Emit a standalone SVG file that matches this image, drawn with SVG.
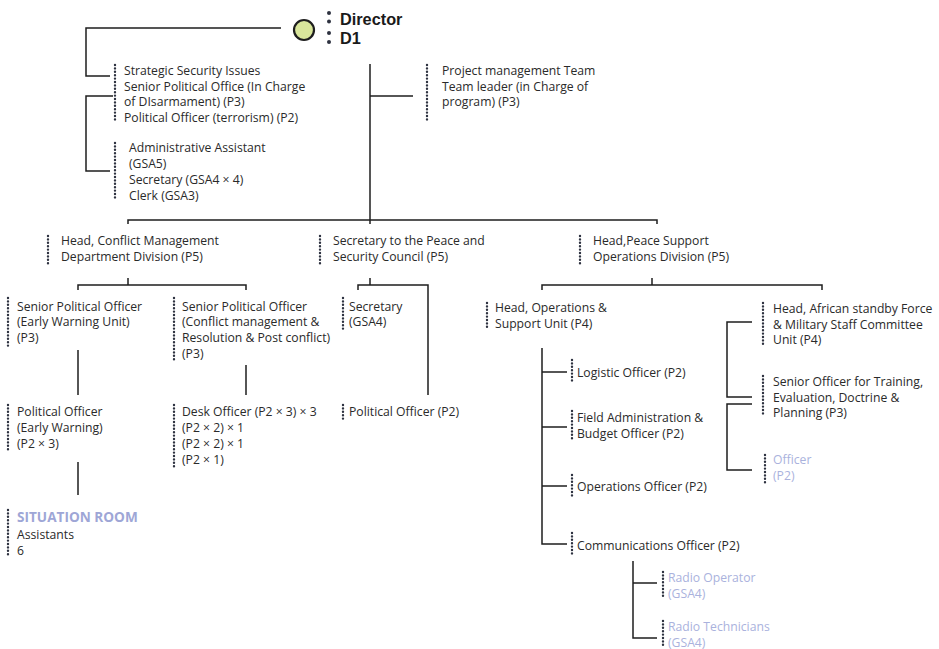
<svg xmlns="http://www.w3.org/2000/svg" width="939" height="649" viewBox="0 0 939 649">
<style>
text{font-family:"Open Sans","Noto Sans","Liberation Sans",sans-serif;font-size:12.2px;fill:#2a2a2a}
.b{font-family:"Liberation Sans",Arial,sans-serif;font-weight:bold;font-size:16.3px;fill:#1a1a1a}
.sr{font-weight:bold;font-size:13.6px;fill:#9ea6d6}
.lv{fill:#aab2dd}
.dt{stroke:#2e3240;stroke-width:2.4;stroke-linecap:round;stroke-dasharray:0 3.4;fill:none}
.cn path{stroke:#1e1e1e;stroke-width:1.5;fill:none}
</style>
<rect width="939" height="649" fill="#ffffff"/>
<g id="connectors" class="cn">
<path d="M281,28 H86 V76 H110"/>
<path d="M113,96 H86 V171 H110"/>
<path d="M370,64 V220"/>
<path d="M370,96 H413"/>
<path d="M128,224 V220 H657 V224"/>
<path d="M370,220 V224"/>
<path d="M128,278 V285"/>
<path d="M78,290 V285 H246 V290"/>
<path d="M370,278 V285"/>
<path d="M358,290 V285 H428 V395"/>
<path d="M652,278 V285"/>
<path d="M542,290 V285 H822 V290"/>
<path d="M78,350 V395"/>
<path d="M246,365 V395"/>
<path d="M78,462 V495"/>
<path d="M542,348 V544 H567"/>
<path d="M542,372 H567"/>
<path d="M542,427 H567"/>
<path d="M542,486 H567"/>
<path d="M752,322 H727 V397 H752"/>
<path d="M752,404 H727 V470 H752"/>
<path d="M633,561 V638 H657"/>
<path d="M633,583 H657"/>
</g>
<g id="n-director">
<circle cx="304" cy="30" r="10" fill="#d9e69b" stroke="#1e1e1e" stroke-width="2.2"/>
<g fill="#2e3240"><circle cx="329" cy="13" r="2"/><circle cx="329" cy="21.5" r="2"/><circle cx="329" cy="33" r="2"/><circle cx="329" cy="42" r="2"/></g>
<text class="b" x="340" y="24.5">Director</text>
<text class="b" x="340" y="43.5">D1</text>
</g>
<g id="n-strategic">
<path class="dt" d="M115,65 V122"/>
<text x="124" y="75">Strategic Security Issues</text>
<text x="124" y="90.5">Senior Political Office (In Charge</text>
<text x="124" y="106">of DIsarmament) (P3)</text>
<text x="124" y="121.5">Political Officer (terrorism) (P2)</text>
</g>
<g id="n-admin">
<path class="dt" d="M115,143 V200"/>
<text x="129" y="152">Administrative Assistant</text>
<text x="129" y="168">(GSA5)</text>
<text x="129" y="184">Secretary (GSA4 × 4)</text>
<text x="129" y="199.5">Clerk (GSA3)</text>
</g>
<g id="n-project">
<path class="dt" d="M427,65 V122"/>
<text x="442" y="74.5">Project management Team</text>
<text x="442" y="90.5">Team leader (in Charge of</text>
<text x="442" y="106">program) (P3)</text>
</g>
<g id="n-conflict">
<path class="dt" d="M48,236 V265"/>
<text x="61" y="245">Head, Conflict Management</text>
<text x="61" y="261">Department Division (P5)</text>
</g>
<g id="n-psc">
<path class="dt" d="M320,236 V265"/>
<text x="333" y="245">Secretary to the Peace and</text>
<text x="333" y="261">Security Council (P5)</text>
</g>
<g id="n-peace">
<path class="dt" d="M580,236 V265"/>
<text x="593" y="245">Head,Peace Support</text>
<text x="593" y="261">Operations Division (P5)</text>
</g>
<g id="n-spo-ew">
<path class="dt" d="M8,298 V346"/>
<text x="17" y="310.5">Senior Political Officer</text>
<text x="17" y="326">(Early Warning Unit)</text>
<text x="17" y="342">(P3)</text>
</g>
<g id="n-spo-cm">
<path class="dt" d="M174,298 V361"/>
<text x="182" y="310.5">Senior Political Officer</text>
<text x="182" y="326">(Conflict management &amp;</text>
<text x="182" y="342">Resolution &amp; Post conflict)</text>
<text x="182" y="357.5">(P3)</text>
</g>
<g id="n-secretary">
<path class="dt" d="M343,298 V330"/>
<text x="349" y="310.5">Secretary</text>
<text x="349" y="326">(GSA4)</text>
</g>
<g id="n-po-ew">
<path class="dt" d="M8,405 V452"/>
<text x="17" y="416">Political Officer</text>
<text x="17" y="432">(Early Warning)</text>
<text x="17" y="448">(P2 × 3)</text>
</g>
<g id="n-desk">
<path class="dt" d="M174,405 V468"/>
<text x="182" y="416">Desk Officer (P2 × 3) × 3</text>
<text x="182" y="432">(P2 × 2) × 1</text>
<text x="182" y="448">(P2 × 2) × 1</text>
<text x="182" y="464">(P2 × 1)</text>
</g>
<g id="n-po">
<path class="dt" d="M343,405 V422"/>
<text x="349" y="416">Political Officer (P2)</text>
</g>
<g id="n-situation">
<path class="dt" d="M8,510 V557"/>
<text class="sr" x="17" y="522">SITUATION ROOM</text>
<text x="17" y="538.5">Assistants</text>
<text x="17" y="554.5">6</text>
</g>
<g id="n-ops-head">
<path class="dt" d="M487,303 V330"/>
<text x="495" y="312">Head, Operations &amp;</text>
<text x="495" y="328">Support Unit (P4)</text>
</g>
<g id="n-asf">
<path class="dt" d="M763,303 V345"/>
<text x="773" y="313">Head, African standby Force</text>
<text x="773" y="328.5">&amp; Military Staff Committee</text>
<text x="773" y="344">Unit (P4)</text>
</g>
<g id="n-training">
<path class="dt" d="M763,376 V415"/>
<text x="773" y="386">Senior Officer for Training,</text>
<text x="773" y="401.5">Evaluation, Doctrine &amp;</text>
<text x="773" y="417">Planning (P3)</text>
</g>
<g id="n-officer">
<path class="dt" d="M765,455 V483"/>
<text class="lv" x="773" y="464">Officer</text>
<text class="lv" x="773" y="479.5">(P2)</text>
</g>
<g id="n-logistic">
<path class="dt" d="M572,360 V382"/>
<text x="577" y="377">Logistic Officer (P2)</text>
</g>
<g id="n-field">
<path class="dt" d="M572,411 V440"/>
<text x="577" y="421.5">Field Administration &amp;</text>
<text x="577" y="437.5">Budget Officer (P2)</text>
</g>
<g id="n-operations">
<path class="dt" d="M572,475 V497"/>
<text x="577" y="491">Operations Officer (P2)</text>
</g>
<g id="n-comm">
<path class="dt" d="M572,533 V555"/>
<text x="577" y="549.5">Communications Officer (P2)</text>
</g>
<g id="n-radio-op">
<path class="dt" d="M663,572 V598"/>
<text class="lv" x="668" y="582">Radio Operator</text>
<text class="lv" x="668" y="597.5">(GSA4)</text>
</g>
<g id="n-radio-tech">
<path class="dt" d="M663,621 V647"/>
<text class="lv" x="668" y="630.5">Radio Technicians</text>
<text class="lv" x="668" y="646.5">(GSA4)</text>
</g>
</svg>
